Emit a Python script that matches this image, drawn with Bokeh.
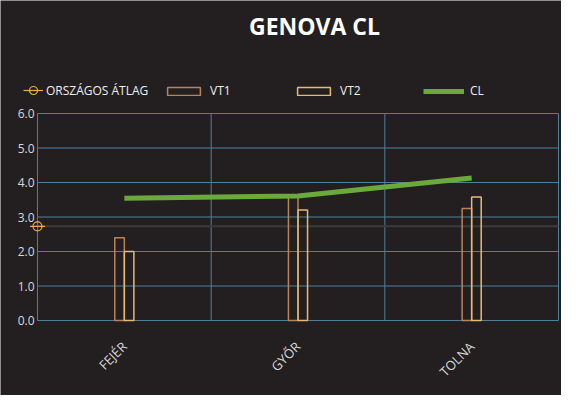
from math import pi
from bokeh.plotting import figure
from bokeh.models import Range1d, Label, Legend, LegendItem, ColumnDataSource
from bokeh.core.properties import value
from bokeh.embed import file_html
from bokeh.resources import INLINE

# ---- data ----
categories = ["FEJÉR", "GYŐR", "TOLNA"]
vt1 = [2.4, 3.6, 3.25]
vt2 = [2.0, 3.2, 3.58]
cl = [3.54, 3.61, 4.13]
orszagos_atlag = 2.73
y_ticks = [0, 1, 2, 3, 4, 5, 6]
y_tick_labels = [f"{v:.1f}" for v in y_ticks]

# ---- layout / style ----
BG = "#231f20"
GRID = "#4e8199"
TXT = "#d9d9d9"
FONT = "Open Sans"
W, H = 561, 395
VAL_L, VAL_R = 37, 3            # px left / right of the value area
VAL_TOP, VAL_BOT = 113, 75      # px above / below the value area
VALUE_W = W - VAL_L - VAL_R
VALUE_H = H - VAL_TOP - VAL_BOT
n = len(categories)
y_max = y_ticks[-1]
px_x = VALUE_W / n
px_y = VALUE_H / y_max

xc = [i + 0.5 for i in range(n)]
bw = 0.055

p = figure(width=W, height=H, output_backend="svg", toolbar_location=None,
           x_range=Range1d(-VAL_L / px_x, n + VAL_R / px_x),
           y_range=Range1d(-VAL_BOT / px_y, y_max + VAL_TOP / px_y),
           x_axis_type=None, y_axis_type=None,
           min_border_left=0, min_border_right=0, min_border_top=0, min_border_bottom=0)
p.title.visible = False
p.background_fill_color = BG
p.border_fill_color = BG
p.outline_line_color = None
p.xgrid.visible = False
p.ygrid.visible = False

# grid over the value area
p.segment(x0=[0] * len(y_ticks), x1=[n] * len(y_ticks), y0=y_ticks, y1=y_ticks,
          line_color=GRID, line_width=1)
dividers = list(range(0, n + 1))
p.segment(x0=dividers, x1=dividers, y0=[0] * len(dividers), y1=[y_max] * len(dividers),
          line_color=GRID, line_width=1)

# tick labels
p.text(x=[0] * len(y_ticks), y=y_ticks, text=y_tick_labels, x_offset=-3,
       text_align="right", text_baseline="middle", text_color=TXT,
       text_font=value(FONT), text_font_size="12px")
p.text(x=xc, y=[-23.6 / px_y] * n, text=categories, angle=pi / 4,
       text_align="right", text_baseline="middle", text_color=TXT,
       text_font=value(FONT), text_font_size="13px")

# national average line
p.segment(x0=[0], x1=[n], y0=[orszagos_atlag], y1=[orszagos_atlag],
          line_color="#3d3a3a", line_width=2)

src = ColumnDataSource(dict(x=xc, vt1=vt1, vt2=vt2, cl=cl,
                            x1=[x - bw / 2 for x in xc], x2=[x + bw / 2 for x in xc]))

r_vt1 = p.vbar(x="x1", top="vt1", width=bw, bottom=0, source=src,
               fill_alpha=0, line_color="#b9835a", line_width=1.5)
r_vt2 = p.vbar(x="x2", top="vt2", width=bw, bottom=0, source=src,
               fill_alpha=0, line_color="#e3bb74", line_width=1.5)
r_cl = p.line(x="x", y="cl", source=src, line_color="#6aaa3c", line_width=5)

AVG_C = "#e8b04a"
r_dash = p.scatter(x=[0], y=[orszagos_atlag], marker="dash", size=15,
                   line_color=AVG_C, line_width=1.2)
r_circ = p.scatter(x=[0], y=[orszagos_atlag], marker="circle", size=9,
                   fill_alpha=0, line_color=AVG_C, line_width=1.2)
# zero-length line: only supplies the legend's short marker line
r_legline = p.line(x=[0, 0], y=[orszagos_atlag, orszagos_atlag],
                   line_color=AVG_C, line_width=1.2)

def style_legend(lg):
    lg.orientation = "horizontal"
    lg.spacing = 0
    lg.padding = 5
    lg.margin = 0
    lg.background_fill_alpha = 0
    lg.border_line_color = None
    lg.label_text_color = "#eeeeee"
    lg.label_text_font = FONT
    lg.label_text_font_size = "12px"

legend_a = Legend(items=[LegendItem(label="ORSZÁGOS ÁTLAG", renderers=[r_legline, r_circ])],
                  location=(23, 293))
style_legend(legend_a)
legend_a.glyph_width = 20
legend_a.glyph_height = 24
legend_a.label_standoff = 3
p.add_layout(legend_a)

legend_b = Legend(items=[
    LegendItem(label="VT1", renderers=[r_vt1]),
    LegendItem(label="VT2", renderers=[r_vt2]),
    LegendItem(label="CL", renderers=[r_cl]),
], location=(163, 296))
style_legend(legend_b)
legend_b.glyph_width = 41
legend_b.glyph_height = 10
legend_b.label_standoff = 6
legend_b.label_width = 83
p.add_layout(legend_b)

title = Label(x=314, y=370, x_units="screen", y_units="screen", text="GENOVA CL",
              text_align="center", text_baseline="middle", text_color="white",
              text_font=FONT, text_font_style="bold", text_font_size="23px")
p.add_layout(title)

open("out.html", "w").write(file_html(p, INLINE))
